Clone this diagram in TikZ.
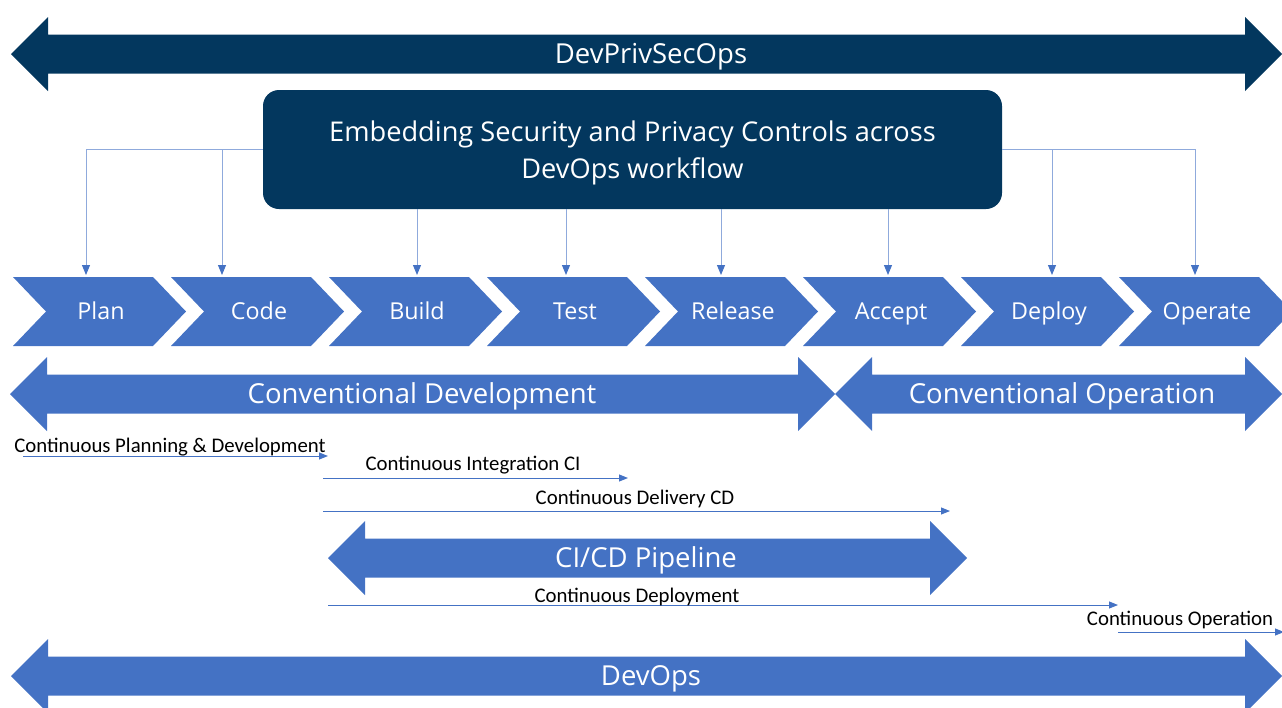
\documentclass[tikz,border=0pt]{standalone}
\usepackage{fontspec}
\setmainfont{Carlito}
\newfontfamily\labelfont{Open Sans}
\usetikzlibrary{arrows.meta}

\definecolor{navy}{RGB}{3,55,94}
\definecolor{officeblue}{RGB}{68,114,196}
\definecolor{paleblue}{RGB}{143,170,220}

\tikzset{
  stage/.style={text=white, font=\labelfont\fontsize{23.3}{26}\selectfont,
    text height=16.5pt, text depth=0pt, inner sep=0pt},
  banner/.style={text=white, font=\labelfont\fontsize{27.5}{30}\selectfont,
    text height=19.5pt, text depth=0pt, inner sep=0pt},
  feed/.style={draw=paleblue, line width=1pt,
    -{Triangle[length=10pt,width=8pt,color=officeblue]}, shorten >=2pt},
  flow/.style={draw=officeblue, line width=1pt, -{Triangle[length=9pt,width=7pt]}},
  flowlabel/.style={font=\fontsize{20.8}{24}\selectfont, inner sep=0pt, anchor=base},
}

% double headed block arrow: x1, x2, y centre, colour
\newcommand{\bothways}[4]{%
  \fill[#4] (#1,#3) -- (#1+37,#3-37) -- (#1+37,#3-19.5) -- (#2-37,#3-19.5)
    -- (#2-37,#3-37) -- (#2,#3) -- (#2-37,#3+37) -- (#2-37,#3+19.5)
    -- (#1+37,#3+19.5) -- (#1+37,#3+37) -- cycle;}

\begin{document}
\begin{tikzpicture}[x=1pt,y=-1pt]
  \useasboundingbox (0,0) rectangle (1282,707);

  % top banner
  \bothways{11}{1282}{54}{navy}
  \node[banner] (dpso) at (651,54) {DevPrivSecOps};

  \node[fill=navy, rounded corners=16pt, minimum width=739pt, minimum height=119pt,
    text=white, align=center, font=\labelfont\fontsize{27.2}{37}\selectfont] (box)
    at (632.5,149.5) {};
  \node[text=white, align=center, font=\labelfont\fontsize{27.2}{37}\selectfont] (boxtext)
    at (632.5,152.5) {Embedding Security and Privacy Controls across\\DevOps workflow};

  % workflow stages
  \foreach \x/\name/\txt in {13/plan/Plan, 171/code/Code, 329/build/Build,
      487/test/Test, 645/release/Release, 803/accept/Accept,
      961/deploy/Deploy, 1119/operate/Operate} {
    \fill[officeblue] (\x,277) -- ++(140,0) -- ++(33,34.5) -- ++(-33,34.5)
      -- ++(-140,0) -- ++(33,-34.5) -- cycle;
    \coordinate (\name-top) at (\x+88,277);
    \node[stage] (\name) at (\x+88,311.5) {\txt};
  }

  % controls into the stages
  \draw[feed] (box.west) -| ([xshift=-15pt]plan-top);
  \draw[feed] ([xshift=-37pt]box.west -| code-top) -- ([xshift=-37pt]code-top);
  \draw[feed] (box.south -| build-top) -- (build-top);
  \draw[feed] ([xshift=-9pt]box.south -| test-top) -- ([xshift=-9pt]test-top);
  \draw[feed] ([xshift=-12pt]box.south -| release-top) -- ([xshift=-12pt]release-top);
  \draw[feed] ([xshift=-3pt]box.south -| accept-top) -- ([xshift=-3pt]accept-top);
  \draw[feed] (box.east) -| ([xshift=-12pt]operate-top);
  \draw[feed] ([xshift=3pt]box.east -| deploy-top) -- ([xshift=3pt]deploy-top);

  % conventional split
  \bothways{10}{835}{394}{officeblue}
  \node[banner] (cdev) at (422,394) {Conventional Development};
  \bothways{835}{1282}{394}{officeblue}
  \node[banner] (cop) at (1062,394) {Conventional Operation};

  % continuous practices
  \coordinate (cpd-s) at (23,456);   \coordinate (cpd-e) at (328,456);
  \coordinate (ci-s) at (323,478);   \coordinate (ci-e) at (628,478);
  \coordinate (cd-s) at (323,511);   \coordinate (cd-e) at (950,511);
  \coordinate (cdep-s) at (328,605); \coordinate (cdep-e) at (1118,605);
  \coordinate (co-s) at (1118,632);  \coordinate (co-e) at (1284,632);

  \draw[flow] (cpd-s) -- (cpd-e);
  \node[flowlabel] (cpd) at (170,452) {Continuous Planning \& Development};
  \draw[flow] (ci-s) -- (ci-e);
  \node[flowlabel] (ci) at (473,470) {Continuous Integration CI};
  \draw[flow] (cd-s) -- (cd-e);
  \node[flowlabel] (cd) at (635,504) {Continuous Delivery CD};

  \bothways{328}{967}{558}{officeblue}
  \node[banner] (cicd) at (646,558) {CI/CD Pipeline};

  \draw[flow] (cdep-s) -- (cdep-e);
  \node[flowlabel] (cdep) at (637,602) {Continuous Deployment};
  \draw[flow] (co-s) -- (co-e);
  \node[flowlabel] (co) at (1180,625) {Continuous Operation};

  % bottom banner
  \bothways{11}{1282}{676}{officeblue}
  \node[banner] (devops) at (651,676) {DevOps};
\end{tikzpicture}
\end{document}
